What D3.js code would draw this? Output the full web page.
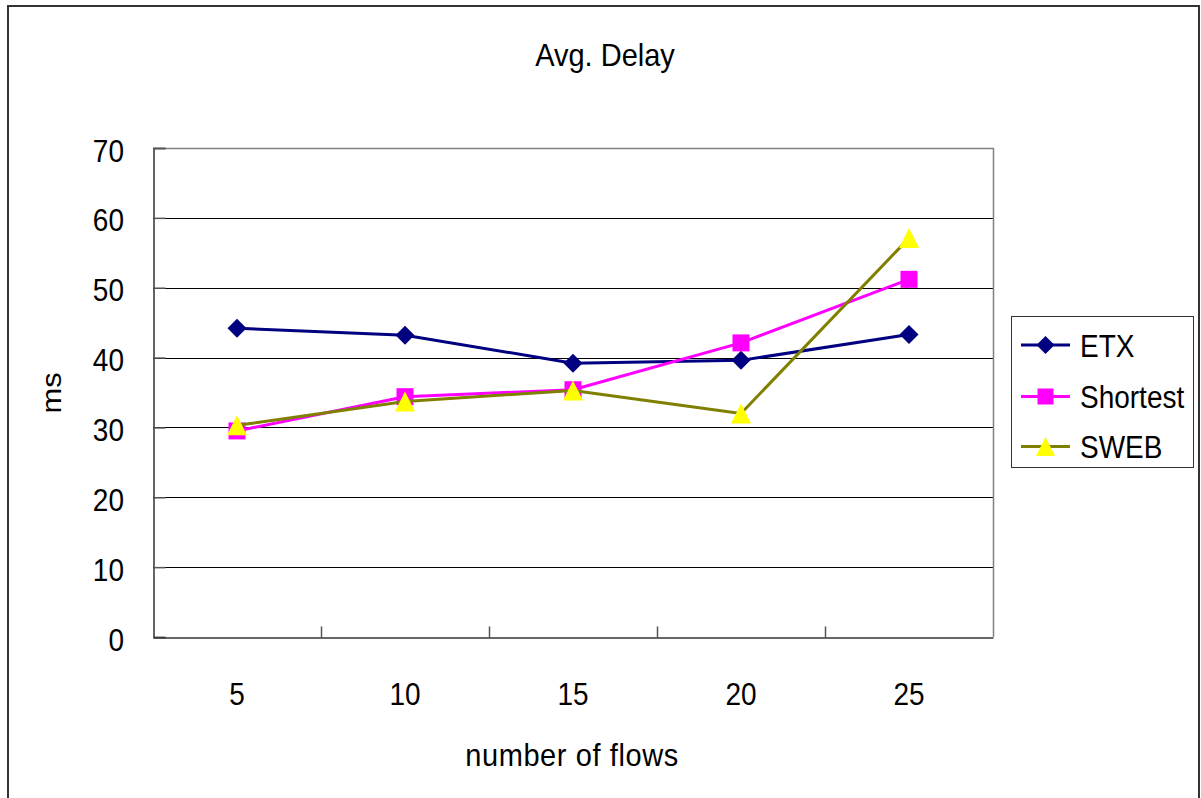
<!DOCTYPE html>
<html>
<head>
<meta charset="utf-8">
<script src="https://cdn.jsdelivr.net/npm/d3@7"></script>
<style>
  html, body { margin: 0; padding: 0; background: #fff; }
  svg { display: block; }
  text { font-family: "Liberation Sans", Arial, sans-serif; fill: #000; }
</style>
</head>
<body>
<svg id="chart" width="1201" height="798"></svg>
<script>
// Average delay (ms) per number of flows, for three routing metrics
const flows = ["5", "10", "15", "20", "25"];
const etx = [44.2, 43.2, 39.2, 39.6, 43.3];
const shortest = [29.5, 34.4, 35.4, 42.1, 51.2];
const sweb = [30.3, 33.7, 35.3, 32.0, 57.1];
const yTicks = [0, 10, 20, 30, 40, 50, 60, 70];
const seriesNames = ["ETX", "Shortest", "SWEB"];

// marker shapes where "size" is the marker's width in pixels
const diamondMark = { draw(ctx, w) { const r = w / 2; ctx.moveTo(0, -r); ctx.lineTo(r, 0); ctx.lineTo(0, r); ctx.lineTo(-r, 0); ctx.closePath(); } };
const squareMark = { draw(ctx, w) { const r = w / 2; ctx.rect(-r, -r, w, w); } };
const triangleMark = { draw(ctx, w) { const r = w / 2, h = w * 1.0; ctx.moveTo(0, -h / 2); ctx.lineTo(r, h / 2); ctx.lineTo(-r, h / 2); ctx.closePath(); } };

const series = [
  { name: seriesNames[0], values: etx, line: "#000080", fill: "#000080", symbol: diamondMark, size: 19 },
  { name: seriesNames[1], values: shortest, line: "#ff00ff", fill: "#ff00ff", symbol: squareMark, size: 17 },
  { name: seriesNames[2], values: sweb, line: "#808000", fill: "#ffff00", symbol: triangleMark, size: 20 }
];

const svg = d3.select("#chart");
const plot = { left: 153, right: 993, top: 148, bottom: 637 };
const SY = 1.1; // glyphs are drawn slightly taller than wide

const x = d3.scaleBand().domain(flows).range([plot.left, plot.right]);
const y = d3.scaleLinear().domain([0, 70]).range([plot.bottom, plot.top]);
const cx = c => x(c) + x.bandwidth() / 2;

function label(g, px, py, str, size, anchor, rot) {
  return g.append("text")
    .attr("transform", `translate(${px},${py}) scale(1,${SY})` + (rot ? ` rotate(${rot})` : ""))
    .attr("font-size", size)
    .attr("text-anchor", anchor)
    .text(str);
}

// outer chart frame
svg.append("rect")
  .attr("x", 8).attr("y", 6).attr("width", 1191).attr("height", 820)
  .attr("fill", "none").attr("stroke", "#333").attr("stroke-width", 2);

// title
label(svg, 605, 66, "Avg. Delay", 29, "middle");

// horizontal gridlines
svg.append("g").selectAll("line")
  .data(yTicks.filter(v => v > 0 && v < 70))
  .join("line")
  .attr("x1", plot.left).attr("x2", plot.right)
  .attr("y1", d => Math.round(y(d)) + 0.5).attr("y2", d => Math.round(y(d)) + 0.5)
  .attr("stroke", "#000").attr("stroke-width", 1);

// plot border (top and right in gray)
svg.append("path")
  .attr("d", `M${plot.left},${plot.top + 0.5}H${plot.right + 0.5}V${plot.bottom}`)
  .attr("fill", "none").attr("stroke", "#808080").attr("stroke-width", 1.5);

// y axis
const yAxis = d3.axisLeft(y).tickValues(yTicks).tickSize(-12).tickFormat("");
const gy = svg.append("g").attr("transform", `translate(${plot.left + 0.5},0)`).call(yAxis);
gy.select(".domain").attr("stroke", "#333").attr("stroke-width", 1.5);
gy.selectAll(".tick line").attr("stroke", "#555").attr("stroke-width", 1.5);
yTicks.forEach(v => label(svg, 124, y(v) + 13.5, String(v), 28, "end"));

// x axis: ticks at category boundaries, pointing into the plot
const xAxis = d3.axisBottom(x).tickSize(0).tickFormat("");
const gx = svg.append("g").attr("transform", `translate(0,${plot.bottom + 0.5})`).call(xAxis);
gx.select(".domain").attr("stroke", "#333").attr("stroke-width", 1.5);
const bounds = flows.map(c => x(c)).slice(1);
gx.selectAll(".bound").data(bounds).join("line")
  .attr("x1", d => Math.round(d) + 0.5).attr("x2", d => Math.round(d) + 0.5)
  .attr("y1", 0).attr("y2", -11)
  .attr("stroke", "#555").attr("stroke-width", 1.5);
flows.forEach(c => label(svg, cx(c), 705, c, 28, "middle"));

// axis titles
label(svg, 572, 766, "number of flows", 29, "middle").attr("letter-spacing", 0.6);
label(svg, 61, 393, "ms", 28, "middle", -90);

// series lines and markers
const lineGen = d3.line().x((d, i) => cx(flows[i])).y(d => y(d));
series.forEach(s => {
  const g = svg.append("g");
  g.append("path")
    .attr("d", lineGen(s.values))
    .attr("fill", "none").attr("stroke", s.line).attr("stroke-width", 3)
    .attr("stroke-linejoin", "round");
  g.selectAll("path.m").data(s.values).join("path")
    .attr("class", "m")
    .attr("transform", (d, i) => `translate(${cx(flows[i])},${y(d)})`)
    .attr("d", d3.symbol(s.symbol, s.size))
    .attr("fill", s.fill);
});

// legend
const lg = svg.append("g");
lg.append("rect")
  .attr("x", 1011.5).attr("y", 316.5).attr("width", 182).attr("height", 151)
  .attr("fill", "#fff").attr("stroke", "#333").attr("stroke-width", 1);
const rowY = [345, 396.5, 446.5];
series.forEach((s, i) => {
  lg.append("line")
    .attr("x1", 1021).attr("x2", 1070).attr("y1", rowY[i]).attr("y2", rowY[i])
    .attr("stroke", s.line).attr("stroke-width", 3);
  lg.append("path")
    .attr("transform", `translate(1045.5,${rowY[i]})`)
    .attr("d", d3.symbol(s.symbol, s.size - 1))
    .attr("fill", s.fill);
  label(lg, 1080, rowY[i] + 11.5, s.name, 28, "start");
});
</script>
</body>
</html>
